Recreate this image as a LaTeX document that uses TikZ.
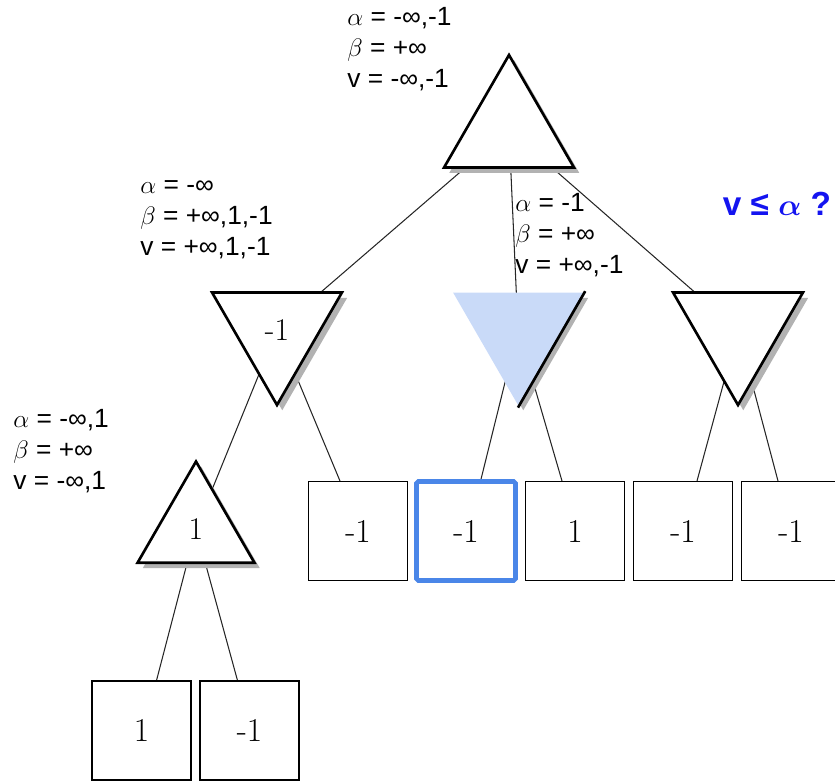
\documentclass[tikz,border=0pt]{standalone}
\usepackage{fontspec}
\usepackage{amsmath}
\usepackage{bm}
\newfontfamily\labelfont{Liberation Sans}
\usepackage{tikz}
\usetikzlibrary{
	shapes.geometric,
	shadows,
	backgrounds,
	calc
}
\definecolor{minblue}{HTML}{C9DAF8}
\definecolor{pickblue}{HTML}{4A86E8}
\definecolor{askblue}{HTML}{1414F0}

\begin{document}
\begin{tikzpicture}[x=0.02cm,y=-0.02cm,
		tri/.style={regular polygon,regular polygon sides=3,inner sep=0pt,line width=1.5pt,
			fill=white,font=\fontsize{18}{20}\selectfont,
			drop shadow={shadow xshift=3pt,shadow yshift=-3pt,fill=black!30,opacity=1}},
		maxnode/.style={tri,draw,minimum size=3cm},
		minnode/.style={tri,draw,minimum size=3cm,shape border rotate=180},
		leaf/.style={draw,line width=0.6pt,fill=white,minimum size=1.98cm,inner sep=0pt,
			font=\fontsize{19}{22}\selectfont},
		picked/.style={draw=pickblue,line width=2.6pt,rounded corners=1pt},
		info/.style={align=left,anchor=north west,inner sep=0pt,
			font=\labelfont\fontsize{15}{17.6}\selectfont},
		edge/.style={line width=0.6pt,black!85}]
		
		\useasboundingbox (0,0) rectangle (835,781);
		
		% game tree
		\node[maxnode] (root) at (509,130) {};
		\node[minnode] (min1) at (277,330) {-1};
		\node[minnode,fill=minblue,draw=none] (min2) at (518,330) {};
		\node[minnode] (min3) at (738,330) {};
		\node[maxnode,minimum size=2.7cm] (max1) at (196,529) {1};
		\draw[line width=1.5pt] (min2.corner 2) -- (min2.corner 1);
		
		% leaves
		\foreach \name/\x/\val in {
			b1/358/-1,
			b3/575/1,
			b4/683/-1,
			b5/791/-1
		}
		\node[leaf] (\name) at (\x,531) {\val};
		\node[leaf,picked] (b2) at (466,531) {-1};
		\node[leaf] (c1) at (141.5,730.5) {1};
		\node[leaf] (c2) at (249.5,730.5) {-1};
		
		\begin{scope}[on background layer]
			\draw[edge] (root.center) -- (min1.center);
			\draw[edge] (root.center) -- (min2.center);
			\draw[edge] (root.center) -- (min3.center);
			\draw[edge] (min1.center) -- (max1.center);
			\draw[edge] (min1.center) -- ($(b1.north)+(-18,0)$);
			\draw[edge] (min2.center) -- ($(b2.north)+(15,0)$);
			\draw[edge] (min2.center) -- ($(b3.north)+(-13,0)$);
			\draw[edge] (min3.center) -- ($(b4.north)+(14,0)$);
			\draw[edge] (min3.center) -- ($(b5.north)+(-13,0)$);
			\draw[edge] (max1.center) -- ($(c1.north)+(15,0)$);
			\draw[edge] (max1.center) -- ($(c2.north)+(-12,0)$);
		\end{scope}
		
		% bounds
		\node[info] (iroot) at (347,7) {$\alpha$ = -∞,-1\\$\beta$ = +∞\\v = -∞,-1};
		\node[info] (imin1) at (140,180) {$\alpha$ = -∞\\$\beta$ = +∞,1,-1\\v = +∞,1,-1};
		\node[info] (imin2) at (515,193) {$\alpha$ = -1\\$\beta$ = +∞\\v = +∞,-1};
		\node[info] (imax1) at (13,409) {$\alpha$ = -∞,1\\$\beta$ = +∞\\v = -∞,1};
		\node[font=\labelfont\bfseries\fontsize{19}{22}\selectfont,text=askblue,inner sep=0pt]
			(ask) at (777,204) {v ≤ $\bm{\alpha}$ ?};
		
	\end{tikzpicture}
\end{document}
